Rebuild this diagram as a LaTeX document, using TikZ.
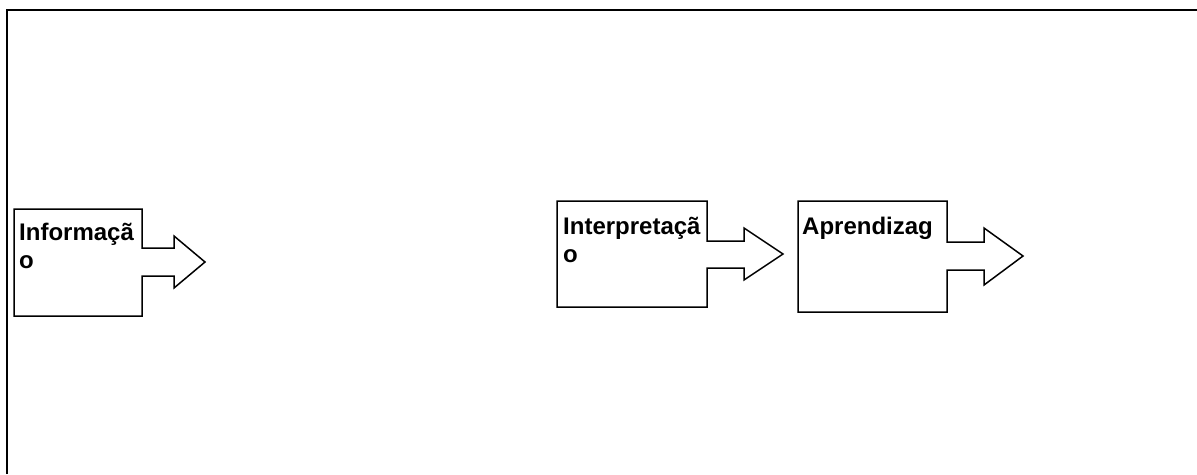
\documentclass[tikz,border=0pt]{standalone}
\usepackage{fontspec}
\setmainfont{Liberation Sans}
\begin{document}
\begin{tikzpicture}[x=1pt,y=-1pt,
  callout/.style={draw=black, line width=1.5pt, line join=miter, fill=white},
  frameline/.style={draw=black, line width=1.6pt},
  lbl/.style={anchor=base west, inner sep=0pt, align=left,
    font=\fontsize{24}{28}\selectfont\bfseries}]
\useasboundingbox (0,0) rectangle (1197,474);

% page frame: top and left edges
\coordinate (fbl) at (7,474);
\coordinate (ftl) at (7,10);
\coordinate (ftr) at (1197,10);
\draw[frameline] (fbl) -- (ftl) -- (ftr);

% arrow callout 1 (label anchored at the baseline of its last line)
\draw[callout] (14,209) -- (142,209) -- (142,248) -- (174,248) -- (174,236)
  -- (205,262) -- (174,288) -- (174,276) -- (142,276) -- (142,316)
  -- (14,316) -- cycle;
\node[lbl] (info) at (19,268) {Informaçã\\o};

% arrow callout 2
\draw[callout] (557,201) -- (707,201) -- (707,241) -- (744,241) -- (744,228)
  -- (783,254) -- (744,280) -- (744,268) -- (707,268) -- (707,307)
  -- (557,307) -- cycle;
\node[lbl] (interp) at (563,262) {Interpretaçã\\o};

% arrow callout 3
\draw[callout] (798,201) -- (947,201) -- (947,242) -- (984,242) -- (984,228)
  -- (1023,256) -- (984,285) -- (984,270) -- (947,270) -- (947,312)
  -- (798,312) -- cycle;
\node[lbl] (aprend) at (802,234) {Aprendizag};
\end{tikzpicture}
\end{document}
